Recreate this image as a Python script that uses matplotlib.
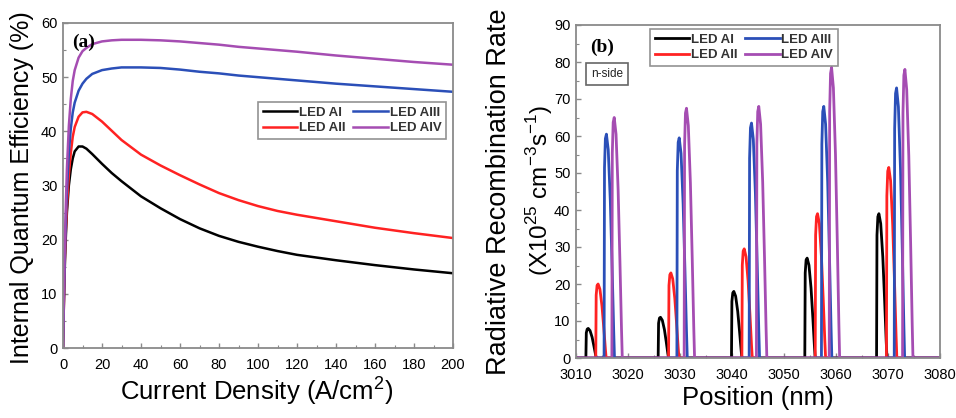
import matplotlib
matplotlib.use("Agg")
import matplotlib.pyplot as plt
from matplotlib.ticker import MultipleLocator

# ---------------- data: panel (a) ----------------
current_density = [0, 0.5, 1, 1.5, 2, 3, 4, 5, 6, 8, 10, 12, 15, 20, 25, 30, 40, 50,
                   60, 70, 80, 90, 100, 110, 120, 140, 160, 180, 200]
iqe_AI = [0, 9, 16, 21, 25, 30, 33, 35, 36.3, 37.2, 37.2, 36.8, 35.8, 34.0, 32.3, 30.8,
          28.0, 25.8, 23.8, 22.1, 20.7, 19.6, 18.7, 17.9, 17.2, 16.2, 15.3, 14.5, 13.8]
iqe_AII = [0, 9, 17, 22, 26, 32, 36, 39, 40.8, 42.7, 43.5, 43.6, 43.2, 41.8, 40.1, 38.4,
           35.7, 33.7, 31.9, 30.2, 28.6, 27.3, 26.2, 25.3, 24.6, 23.4, 22.2, 21.2, 20.3]
iqe_AIII = [0, 10, 18, 24, 29, 36, 40.5, 43.5, 45.3, 47.5, 48.8, 49.7, 50.6, 51.3, 51.6, 51.8,
            51.8, 51.7, 51.4, 51.0, 50.7, 50.3, 50.0, 49.7, 49.4, 48.8, 48.3, 47.8, 47.3]
iqe_AIV = [0, 11, 20, 27, 33, 41, 46, 49.3, 51.3, 53.6, 54.8, 55.4, 56.1, 56.6, 56.8, 56.9,
           56.9, 56.8, 56.6, 56.3, 56.0, 55.6, 55.3, 55.0, 54.7, 54.0, 53.4, 52.8, 52.3]

# ---------------- data: panel (b) ----------------
pos_AI = [3010,
          3011.9, 3011.98, 3012.15, 3012.35, 3012.7, 3013.1, 3013.45, 3013.75, 3013.9,
          3025.8, 3025.88, 3026.05, 3026.25, 3026.6, 3027.0, 3027.35, 3027.65, 3027.8,
          3039.9, 3039.98, 3040.15, 3040.35, 3040.7, 3041.1, 3041.45, 3041.75, 3041.9,
          3054.0, 3054.08, 3054.25, 3054.45, 3054.8, 3055.2, 3055.55, 3055.85, 3056.0,
          3067.8, 3067.88, 3068.05, 3068.25, 3068.6, 3069.0, 3069.35, 3069.65, 3069.8,
          3080]
rate_AI = [0,
           0, 6.8, 7.8, 8.0, 7.4, 5.6, 3.2, 1.0, 0,
           0, 9.4, 10.8, 11.0, 10.2, 7.7, 4.4, 1.3, 0,
           0, 15.3, 17.6, 18.0, 16.7, 12.6, 7.2, 2.2, 0,
           0, 23.0, 26.5, 27.0, 25.1, 18.9, 10.8, 3.2, 0,
           0, 33.2, 38.2, 39.0, 36.3, 27.3, 15.6, 4.7, 0,
           0]

pos_AII = [3010,
           3013.8, 3013.88, 3014.05, 3014.25, 3014.6, 3015.0, 3015.35, 3015.65, 3015.8,
           3027.8, 3027.88, 3028.05, 3028.25, 3028.6, 3029.0, 3029.35, 3029.65, 3029.8,
           3041.9, 3041.98, 3042.15, 3042.35, 3042.7, 3043.1, 3043.45, 3043.75, 3043.9,
           3056.0, 3056.08, 3056.25, 3056.45, 3056.8, 3057.2, 3057.55, 3057.85, 3058.0,
           3069.7, 3069.78, 3069.95, 3070.15, 3070.5, 3070.9, 3071.25, 3071.55, 3071.7,
           3080]
rate_AII = [0,
            0, 17.0, 19.6, 20.0, 18.6, 14.0, 8.0, 2.4, 0,
            0, 19.6, 22.5, 23.0, 21.4, 16.1, 9.2, 2.8, 0,
            0, 25.1, 28.9, 29.5, 27.4, 20.7, 11.8, 3.5, 0,
            0, 33.2, 38.2, 39.0, 36.3, 27.3, 15.6, 4.7, 0,
            0, 43.8, 50.5, 51.5, 47.9, 36.1, 20.6, 6.2, 0,
            0]

pos_AIII = [3010,
            3015.4, 3015.48, 3015.65, 3015.85, 3016.2, 3016.6, 3016.95, 3017.25, 3017.4,
            3029.4, 3029.48, 3029.65, 3029.85, 3030.2, 3030.6, 3030.95, 3031.25, 3031.4,
            3043.3, 3043.38, 3043.55, 3043.75, 3044.1, 3044.5, 3044.85, 3045.15, 3045.3,
            3057.2, 3057.28, 3057.45, 3057.65, 3058.0, 3058.4, 3058.75, 3059.05, 3059.2,
            3071.2, 3071.28, 3071.45, 3071.65, 3072.0, 3072.4, 3072.75, 3073.05, 3073.2,
            3080]
rate_AIII = [0,
             0, 51.4, 59.3, 60.5, 56.3, 42.4, 24.2, 7.3, 0,
             0, 50.6, 58.3, 59.5, 55.3, 41.7, 23.8, 7.1, 0,
             0, 54.0, 62.2, 63.5, 59.1, 44.5, 25.4, 7.6, 0,
             0, 57.8, 66.6, 68.0, 63.2, 47.6, 27.2, 8.2, 0,
             0, 62.0, 71.5, 73.0, 67.9, 51.1, 29.2, 8.8, 0,
             0]

pos_AIV = [3010,
           3016.9, 3016.98, 3017.15, 3017.35, 3017.7, 3018.1, 3018.45, 3018.75, 3018.9,
           3030.8, 3030.88, 3031.05, 3031.25, 3031.6, 3032.0, 3032.35, 3032.65, 3032.8,
           3044.7, 3044.78, 3044.95, 3045.15, 3045.5, 3045.9, 3046.25, 3046.55, 3046.7,
           3058.7, 3058.78, 3058.95, 3059.15, 3059.5, 3059.9, 3060.25, 3060.55, 3060.7,
           3072.8, 3072.88, 3073.05, 3073.25, 3073.6, 3074.0, 3074.35, 3074.65, 3074.8,
           3080]
rate_AIV = [0,
            0, 55.3, 63.7, 65.0, 60.5, 45.5, 26.0, 7.8, 0,
            0, 57.4, 66.2, 67.5, 62.8, 47.3, 27.0, 8.1, 0,
            0, 57.8, 66.6, 68.0, 63.2, 47.6, 27.2, 8.2, 0,
            0, 66.7, 76.9, 78.5, 73.0, 55.0, 31.4, 9.4, 0,
            0, 66.3, 76.4, 78.0, 72.5, 54.6, 31.2, 9.4, 0,
            0]

labels = ["LED AI", "LED AII", "LED AIII", "LED AIV"]
colors = ["#000000", "#ff2222", "#2b4fb8", "#a54db2"]

plt.rcParams['font.family'] = ['Liberation Sans', 'DejaVu Sans']
plt.rcParams['mathtext.fontset'] = 'custom'
plt.rcParams['mathtext.rm'] = 'Liberation Sans'

fig = plt.figure(figsize=(9.56, 4.18), dpi=100)
W, H = 956, 418

def add_axes_px(x0, x1, ytop, ybot):
    return fig.add_axes([x0 / W, (H - ybot) / H, (x1 - x0) / W, (ybot - ytop) / H])

spine_col = "#8a8a8a"

def style(ax):
    for s in ax.spines.values():
        s.set_color(spine_col)
        s.set_linewidth(1.3)
    ax.tick_params(which='both', direction='in', top=False, right=False,
                   color=spine_col, labelsize=10.5)
    ax.tick_params(axis='x', which='both', pad=7)
    ax.tick_params(axis='y', which='both', pad=4)
    ax.tick_params(which='major', length=3.5, width=1)
    ax.tick_params(which='minor', length=2, width=0.8)

# ---------------- panel (a) ----------------
axa = add_axes_px(63, 453, 23, 348)
for y, lab, c in zip([iqe_AI, iqe_AII, iqe_AIII, iqe_AIV], labels, colors):
    axa.plot(current_density, y, color=c, lw=1.8, label=lab)
axa.set_xlim(0, 200)
axa.set_ylim(0, 60)
axa.xaxis.set_major_locator(MultipleLocator(20))
axa.xaxis.set_minor_locator(MultipleLocator(10))
axa.yaxis.set_major_locator(MultipleLocator(10))
axa.yaxis.set_minor_locator(MultipleLocator(5))
style(axa)
axa.text(0.023, 0.94, "(a)", transform=axa.transAxes, fontsize=14, fontweight='bold',
         family='Liberation Serif', va='center', ha='left')
leg = axa.legend(ncol=2, loc='upper right', bbox_to_anchor=(0.982, 0.757),
                 prop={'size': 9.5, 'weight': 'bold'}, fancybox=False,
                 edgecolor='#777777', handlelength=2.6, handletextpad=0.15,
                 columnspacing=0.6, labelspacing=0.25, borderpad=0.35,
                 borderaxespad=0)
leg.get_frame().set_linewidth(1.2)
for t in leg.get_texts():
    t.set_color('#333333')

fig.text(22 / W, 1 - 188 / H, "Internal Quantum Efficiency (%)", rotation=90,
         ha='center', va='center', fontsize=18)
fig.text(257 / W, 1 - 391 / H, "Current Density (A/cm$^{2}$)", ha='center', va='center',
         fontsize=18.5)

# ---------------- panel (b) ----------------
axb = add_axes_px(576, 940, 25, 358)
for x, y, lab, c in zip([pos_AI, pos_AII, pos_AIII, pos_AIV],
                        [rate_AI, rate_AII, rate_AIII, rate_AIV], labels, colors):
    axb.plot(x, y, color=c, lw=2.0, label=lab)
axb.set_xlim(3010, 3080)
axb.set_ylim(0, 90)
axb.xaxis.set_major_locator(MultipleLocator(10))
axb.xaxis.set_minor_locator(MultipleLocator(5))
axb.yaxis.set_major_locator(MultipleLocator(10))
axb.yaxis.set_minor_locator(MultipleLocator(5))
style(axb)
axb.text(0.038, 0.934, "(b)", transform=axb.transAxes, fontsize=14, fontweight='bold',
         family='Liberation Serif', va='center', ha='left')
axb.text(0.085, 0.853, "n-side", transform=axb.transAxes, fontsize=8.5,
         ha='center', va='center', color='#222222',
         bbox=dict(boxstyle='square,pad=0.45', fc='white', ec='#666666', lw=1.2))
legb = axb.legend(ncol=2, loc='upper left', bbox_to_anchor=(0.203, 0.988),
                  prop={'size': 9.5, 'weight': 'bold'}, fancybox=False,
                  edgecolor='#777777', handlelength=2.6, handletextpad=0.15,
                  columnspacing=0.6, labelspacing=0.25, borderpad=0.35,
                  borderaxespad=0)
legb.get_frame().set_linewidth(1.2)
for t in legb.get_texts():
    t.set_color('#333333')

fig.text(499 / W, 1 - 192 / H, "Radiative Recombination Rate", rotation=90,
         ha='center', va='center', fontsize=19.5)
fig.text(540 / W, 1 - 190 / H, "(X10$^{25}$ cm$^{-3}$s$^{-1}$)", rotation=90,
         ha='center', va='center', fontsize=17.5)
fig.text(758 / W, 1 - 398 / H, "Position (nm)", ha='center', va='center', fontsize=18.5)

fig.savefig("out.png", dpi=100)
